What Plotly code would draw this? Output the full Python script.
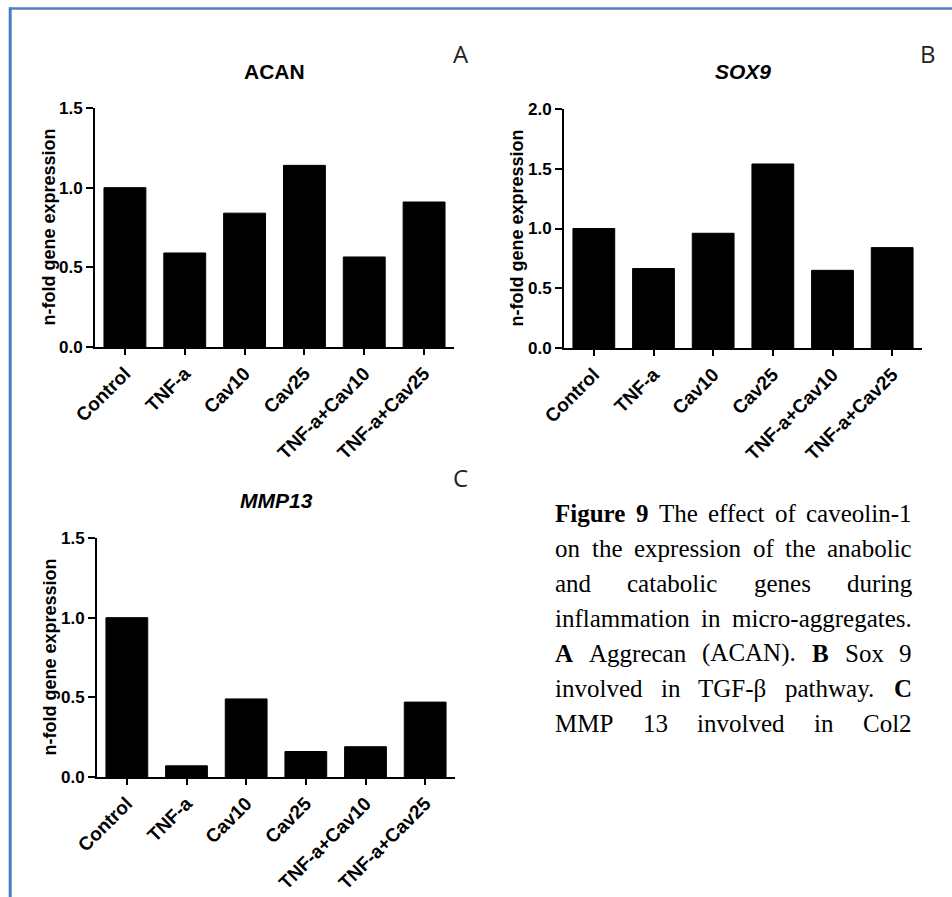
import plotly.graph_objects as go

W, H = 952, 897

categories = ["Control", "TNF-a", "Cav10", "Cav25", "TNF-a+Cav10", "TNF-a+Cav25"]
acan_values = [1.0, 0.59, 0.84, 1.14, 0.565, 0.91]
sox9_values = [1.0, 0.665, 0.96, 1.54, 0.65, 0.84]
mmp13_values = [1.0, 0.07, 0.49, 0.16, 0.19, 0.47]

acan_ticks = [0.0, 0.5, 1.0, 1.5]
sox9_ticks = [0.0, 0.5, 1.0, 1.5, 2.0]
mmp13_ticks = [0.0, 0.5, 1.0, 1.5]

y_title = "n-fold gene expression"

caption_lines = [
    [("Figure", True), ("9", True), ("The", False), ("effect", False), ("of", False), ("caveolin-1", False)],
    [("on", False), ("the", False), ("expression", False), ("of", False), ("the", False), ("anabolic", False)],
    [("and", False), ("catabolic", False), ("genes", False), ("during", False)],
    [("inflammation", False), ("in", False), ("micro-aggregates.", False)],
    [("A", True), ("Aggrecan", False), ("(ACAN).", False), ("B", True), ("Sox", False), ("9", False)],
    [("involved", False), ("in", False), ("TGF-β", False), ("pathway.", False), ("C", True)],
    [("MMP", False), ("13", False), ("involved", False), ("in", False), ("Col2", False)],
]


def px(x):
    return x / W


def py(y):
    return 1 - y / H


# panel geometry in pixels: (x_left, x_right, y_zero_px, y_top_px)
panels = [
    dict(vals=acan_values, ticks=acan_ticks, ymax=1.5, xl=95, xr=454, y0=347, y1=108,
         title="ACAN", italic=False, tx=274, ty=72, label="A", lx=461, ly=53, ytx=48),
    dict(vals=sox9_values, ticks=sox9_ticks, ymax=2.0, xl=564, xr=922, y0=348, y1=109,
         title="SOX9", italic=True, tx=743, ty=72, label="B", lx=928, ly=54, ytx=517),
    dict(vals=mmp13_values, ticks=mmp13_ticks, ymax=1.5, xl=97, xr=455, y0=777, y1=538,
         title="MMP13", italic=True, tx=276, ty=501, label="C", lx=460, ly=477, ytx=49),
]

fig = go.Figure()
annotations = []
SANS = "Arial, Liberation Sans, sans-serif"

for i, p in enumerate(panels):
    n = "" if i == 0 else str(i + 1)
    fig.add_trace(go.Bar(
        x=categories, y=p["vals"], xaxis="x" + n, yaxis="y" + n,
        marker=dict(color="black", line=dict(color="black", width=1)),
        showlegend=False, hoverinfo="x+y",
    ))
    fig.layout["xaxis" + n] = dict(
        domain=[px(p["xl"]), px(p["xr"])], anchor="y" + n,
        type="category", range=[-0.5, 5.5],
        showline=True, linecolor="black", linewidth=2,
        ticks="outside", ticklen=6, tickwidth=2, tickcolor="black",
        tickangle=-45, showgrid=False, zeroline=False,
        tickfont=dict(family=SANS, size=19, color="black", weight="bold"),
    )
    fig.layout["yaxis" + n] = dict(
        domain=[py(p["y0"]), py(p["y1"])], anchor="x" + n,
        range=[0, p["ymax"]], tickvals=p["ticks"], tickformat=".1f",
        showline=True, linecolor="black", linewidth=2,
        ticks="outside", ticklen=7, tickwidth=2, tickcolor="black",
        showgrid=False, zeroline=False,
        tickfont=dict(family=SANS, size=17, color="black", weight="bold"),
    )
    annotations.append(dict(
        text=p["title"], x=px(p["tx"]), y=py(p["ty"]), xref="paper", yref="paper",
        showarrow=False, xanchor="center", yanchor="middle",
        font=dict(family=SANS, size=21, color="black", weight="bold",
                  style="italic" if p["italic"] else "normal"),
    ))
    annotations.append(dict(
        text=p["label"], x=px(p["lx"]), y=py(p["ly"]), xref="paper", yref="paper",
        showarrow=False, xanchor="center", yanchor="middle",
        font=dict(family="Open Sans, sans-serif", size=24, color="#222"),
    ))
    annotations.append(dict(
        text=y_title, x=px(p["ytx"]), y=py((p["y0"] + p["y1"]) / 2),
        xref="paper", yref="paper", showarrow=False, textangle=-90,
        xanchor="center", yanchor="middle",
        font=dict(family=SANS, size=18, color="black", weight="bold"),
    ))

# Caption (justified text, Times metrics)
REG = {' ': 250, 'a': 444, 'b': 500, 'c': 444, 'd': 500, 'e': 444, 'f': 333, 'g': 500,
       'h': 500, 'i': 278, 'l': 278, 'm': 778, 'n': 500, 'o': 500, 'p': 500, 'r': 333,
       's': 389, 't': 278, 'u': 500, 'v': 500, 'w': 722, 'x': 500, 'y': 500, 'A': 722,
       'C': 667, 'G': 722, 'F': 556, 'M': 889, 'N': 722, 'P': 556, 'S': 556, 'T': 611,
       '(': 333, ')': 333, '.': 250, '-': 333, '1': 500, '2': 500, '3': 500, '9': 500,
       'β': 500}
BOLD = {'F': 611, 'i': 278, 'g': 500, 'u': 556, 'r': 444, 'e': 444, '9': 500,
        'A': 722, 'B': 667, 'C': 722}

CAP_SIZE = 25
CAP_LEFT, CAP_RIGHT = 555, 912
CAP_Y0, CAP_DY = 513, 35


def word_width(w, bold):
    table = BOLD if bold else REG
    return sum(table.get(ch, REG.get(ch, 500)) for ch in w) / 1000 * CAP_SIZE


for li, line in enumerate(caption_lines):
    widths = [word_width(w, b) for w, b in line]
    gap = (CAP_RIGHT - CAP_LEFT - sum(widths)) / (len(line) - 1)
    x = CAP_LEFT
    yline = CAP_Y0 + li * CAP_DY
    for (w, b), ww in zip(line, widths):
        annotations.append(dict(
            text=w, x=px(x), y=py(yline), xref="paper", yref="paper",
            showarrow=False, xanchor="left", yanchor="middle",
            borderpad=0, borderwidth=0,
            font=dict(family="Liberation Serif, Times New Roman, serif", size=CAP_SIZE,
                      color="black", weight="bold" if b else "normal"),
        ))
        x += ww + gap

shapes = [
    dict(type="line", xref="paper", yref="paper", x0=px(9), x1=1, y0=py(8.5), y1=py(8.5),
         line=dict(color="#4F81BD", width=2.5)),
    dict(type="line", xref="paper", yref="paper", x0=px(10.2), x1=px(10.2), y0=py(7.5), y1=0,
         line=dict(color="#4A7CC4", width=3)),
]

fig.update_layout(
    width=W, height=H, margin=dict(l=0, r=0, t=0, b=0, autoexpand=False),
    template="none", paper_bgcolor="white", plot_bgcolor="white",
    bargap=0.3, annotations=annotations, shapes=shapes, showlegend=False,
)

fig.write_html("out.html")
